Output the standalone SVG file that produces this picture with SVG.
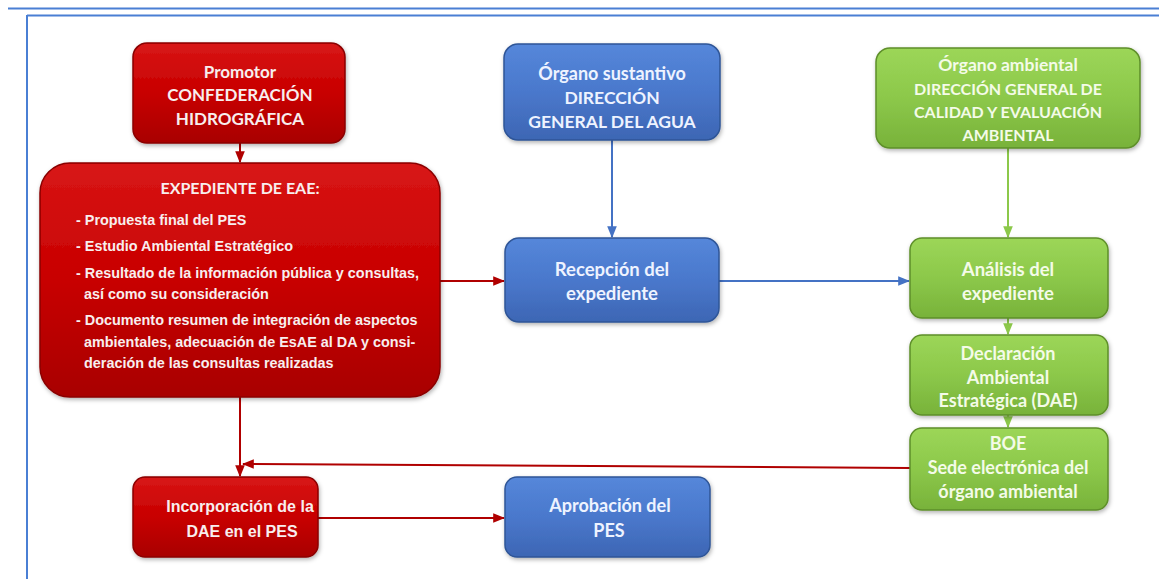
<svg xmlns="http://www.w3.org/2000/svg" width="1159" height="579" viewBox="0 0 1159 579">
<defs>
<linearGradient id="gr" x1="0" y1="0" x2="0" y2="1"><stop offset="0" stop-color="#d81616"/><stop offset="0.5" stop-color="#c80000"/><stop offset="1" stop-color="#a80000"/></linearGradient>
<linearGradient id="gb" x1="0" y1="0" x2="0" y2="1"><stop offset="0" stop-color="#5587da"/><stop offset="0.5" stop-color="#4a78cc"/><stop offset="1" stop-color="#3d66b4"/></linearGradient>
<linearGradient id="gg" x1="0" y1="0" x2="0" y2="1"><stop offset="0" stop-color="#9cd658"/><stop offset="0.5" stop-color="#8cc84a"/><stop offset="1" stop-color="#78b23a"/></linearGradient>
<filter id="sh" x="-10%" y="-10%" width="120%" height="130%"><feDropShadow dx="1" dy="2" stdDeviation="2" flood-color="#000" flood-opacity="0.3"/></filter>
<marker id="ar" viewBox="0 0 10 10" refX="9" refY="5" markerWidth="6" markerHeight="6" orient="auto"><path d="M0,1 L10,5 L0,9 z" fill="#b00000"/></marker>
<marker id="ab" viewBox="0 0 10 10" refX="9" refY="5" markerWidth="6" markerHeight="6" orient="auto"><path d="M0,1 L10,5 L0,9 z" fill="#4472c4"/></marker>
<marker id="ag" viewBox="0 0 10 10" refX="9" refY="5" markerWidth="6" markerHeight="6" orient="auto"><path d="M0,1 L10,5 L0,9 z" fill="#8cc84a"/></marker>
</defs>
<style>
.r{fill:url(#gr);stroke:#8a0000;stroke-width:1.5;filter:url(#sh)}
.b{fill:url(#gb);stroke:#2f5597;stroke-width:1.5;filter:url(#sh)}
.g{fill:url(#gg);stroke:#5e8f2a;stroke-width:1.5;filter:url(#sh)}
.tn{font-family:"Liberation Sans Narrow","Arial Narrow","Liberation Sans",sans-serif;font-weight:bold;fill:#f8eeee}
.tc{font-family:Lato,"Open Sans","Liberation Sans",sans-serif;font-weight:bold}
.tb{fill:#eef3ff}
.tg{fill:#f4fbe8}
.m{text-anchor:middle}
.cr{stroke:#b00000;stroke-width:2;fill:none}
.cb{stroke:#4472c4;stroke-width:2;fill:none}
.cg{stroke:#8cc84a;stroke-width:2;fill:none}
</style>
<rect width="1159" height="579" fill="#ffffff"/>
<g id="frame" stroke="#4a7fd4" stroke-width="2" fill="none">
<line x1="8" y1="8.5" x2="1159" y2="8.5"/>
<line x1="27" y1="15.5" x2="1159" y2="15.5"/>
<line x1="27" y1="15" x2="27" y2="579"/>
</g>
<g id="connectors">
<line class="cr" x1="240" y1="143" x2="240" y2="162" marker-end="url(#ar)"/>
<line class="cr" x1="440" y1="281" x2="504" y2="281" marker-end="url(#ar)"/>
<line class="cb" x1="612" y1="140" x2="612" y2="237" marker-end="url(#ab)"/>
<line class="cb" x1="719" y1="281" x2="909" y2="281" marker-end="url(#ab)"/>
<line class="cg" x1="1008" y1="148" x2="1008" y2="237" marker-end="url(#ag)"/>
<line class="cg" x1="1008" y1="318" x2="1008" y2="334" marker-end="url(#ag)"/>
<line class="cg" x1="1008" y1="415" x2="1008" y2="427" marker-end="url(#ag)"/>
<line class="cr" x1="240" y1="397" x2="240" y2="476" marker-end="url(#ar)"/>
<line class="cr" x1="910" y1="468" x2="243" y2="464" marker-end="url(#ar)"/>
<line class="cr" x1="318" y1="518" x2="504" y2="518" marker-end="url(#ar)"/>
</g>
<g id="promotor">
<rect class="r" x="133" y="43" width="212" height="100" rx="14"/>
<text class="tc m" x="240" y="78" font-size="17" fill="#f8eeee">Promotor</text>
<text class="tc m" x="240" y="101" font-size="17" fill="#f8eeee">CONFEDERACIÓN</text>
<text class="tc m" x="240" y="125" font-size="17" fill="#f8eeee">HIDROGRÁFICA</text>
</g>
<g id="expediente">
<rect class="r" x="40" y="163" width="400" height="234" rx="30"/>
<text class="tc m" x="240" y="194" font-size="16" fill="#f8eeee">EXPEDIENTE DE EAE:</text>
<text class="tn" x="76" y="225" font-size="14.4">- Propuesta final del PES</text>
<text class="tn" x="76" y="251" font-size="14.4">- Estudio Ambiental Estratégico</text>
<text class="tn" x="76" y="278" font-size="14.4">- Resultado de la información pública y consultas,</text>
<text class="tn" x="84" y="299" font-size="14.4">así como su consideración</text>
<text class="tn" x="76" y="325" font-size="14.4">- Documento resumen de integración de aspectos</text>
<text class="tn" x="84" y="347" font-size="14.4">ambientales, adecuación de EsAE al DA y consi-</text>
<text class="tn" x="84" y="368" font-size="14.4">deración de las consultas realizadas</text>
</g>
<g id="sustantivo">
<rect class="b" x="504" y="44" width="216" height="96" rx="14"/>
<text class="tc tb m" x="612" y="80" font-size="18">Órgano sustantivo</text>
<text class="tc tb m" x="612" y="104" font-size="17.5">DIRECCIÓN</text>
<text class="tc tb m" x="612" y="128" font-size="17.5">GENERAL DEL AGUA</text>
</g>
<g id="ambiental">
<rect class="g" x="876" y="48" width="264" height="100" rx="14"/>
<text class="tc tg m" x="1008" y="71" font-size="17.5">Órgano ambiental</text>
<text class="tc tg m" x="1008" y="95" font-size="16">DIRECCIÓN GENERAL DE</text>
<text class="tc tg m" x="1008" y="118" font-size="16">CALIDAD Y EVALUACIÓN</text>
<text class="tc tg m" x="1008" y="141" font-size="16">AMBIENTAL</text>
</g>
<g id="recepcion">
<rect class="b" x="505" y="238" width="214" height="84" rx="14"/>
<text class="tc tb m" x="612" y="276" font-size="18.5">Recepción del</text>
<text class="tc tb m" x="612" y="300" font-size="18.5">expediente</text>
</g>
<g id="analisis">
<rect class="g" x="910" y="238" width="198" height="80" rx="12"/>
<text class="tc tg m" x="1008" y="276" font-size="18.5">Análisis del</text>
<text class="tc tg m" x="1008" y="300" font-size="18.5">expediente</text>
</g>
<g id="declaracion">
<rect class="g" x="910" y="335" width="198" height="80" rx="12"/>
<text class="tc tg m" x="1008" y="360" font-size="18">Declaración</text>
<text class="tc tg m" x="1008" y="384" font-size="18">Ambiental</text>
<text class="tc tg m" x="1008" y="407" font-size="18">Estratégica (DAE)</text>
</g>
<g id="boe">
<rect class="g" x="910" y="428" width="198" height="82" rx="12"/>
<text class="tc tg m" x="1008" y="450" font-size="18">BOE</text>
<text class="tc tg m" x="1008" y="474" font-size="18">Sede electrónica del</text>
<text class="tc tg m" x="1008" y="498" font-size="18">órgano ambiental</text>
</g>
<g id="incorporacion">
<rect class="r" x="133" y="477" width="185" height="80" rx="12"/>
<text class="tn m" x="240" y="512" font-size="16">Incorporación de la</text>
<text class="tn m" x="242" y="537" font-size="16">DAE en el PES</text>
</g>
<g id="aprobacion">
<rect class="b" x="505" y="477" width="205" height="80" rx="12"/>
<text class="tc tb m" x="610" y="512" font-size="18">Aprobación del</text>
<text class="tc tb m" x="609" y="537" font-size="18">PES</text>
</g>
</svg>
